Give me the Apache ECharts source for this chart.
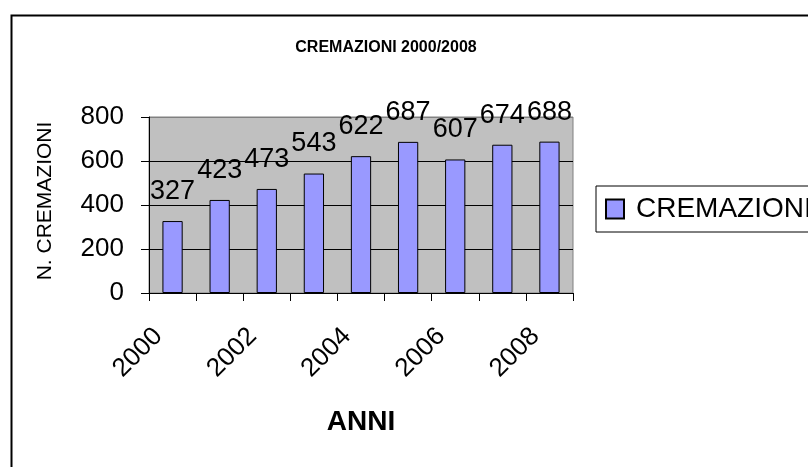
<!DOCTYPE html>
<html>
<head>
<meta charset="utf-8">
<script src="https://cdn.jsdelivr.net/npm/echarts@6/dist/echarts.min.js"></script>
<style>html,body{margin:0;padding:0;background:#fff}#c{width:808px;height:467px}</style>
</head>
<body>
<div id="c"></div>
<script>
var categories = ['2000','2001','2002','2003','2004','2005','2006','2007','2008'];
var cremazioni = [327, 423, 473, 543, 622, 687, 607, 674, 688];
var yTicks = [0, 200, 400, 600, 800];

var chart = echarts.init(document.getElementById('c'), null, {renderer: 'canvas'});
var F = '"Liberation Sans", Arial, sans-serif';
chart.setOption({
  animation: false,
  backgroundColor: '#ffffff',
  textStyle: {fontFamily: F},
  title: {
    text: 'CREMAZIONI 2000/2008',
    left: 381, top: 35, textAlign: 'center',
    textStyle: {fontFamily: F, fontSize: 16, fontWeight: 'bold', color: '#000'}
  },
  graphic: [{
    type: 'rect', left: 9, top: 13, z: -1,
    shape: {x: 0, y: 0, width: 900, height: 500},
    style: {fill: 'none', stroke: '#000', lineWidth: 2}
  }],
  legend: {
    left: 596, top: 186,
    orient: 'vertical',
    padding: [9, 10, 9, 9],
    borderColor: '#000', borderWidth: 1,
    itemWidth: 18, itemHeight: 19, itemGap: 0,
    icon: 'rect',
    textStyle: {fontFamily: F, fontSize: 28, color: '#000', padding: [0, 0, 0, 7]},
    data: ['CREMAZIONI']
  },
  grid: {
    left: 149, right: 235, top: 117, bottom: 174,
    show: true, backgroundColor: '#c0c0c0', borderColor: '#808080', borderWidth: 1,
    containLabel: false
  },
  xAxis: {
    type: 'category',
    data: categories,
    boundaryGap: true,
    name: 'ANNI', nameLocation: 'middle', nameGap: 115,
    nameTextStyle: {fontFamily: F, fontSize: 28, fontWeight: 'bold', color: '#000'},
    axisLine: {show: true, lineStyle: {color: '#000', width: 1}},
    axisTick: {show: true, interval: 0, length: 8, lineStyle: {color: '#000'}},
    axisLabel: {
      interval: 1, rotate: 45, margin: 25, color: '#000',
      fontFamily: F, fontSize: 26, padding: [0, 20, 0, 0]
    },
    splitLine: {show: false}
  },
  yAxis: {
    type: 'value',
    min: yTicks[0], max: yTicks[yTicks.length - 1], interval: 200,
    name: 'N. CREMAZIONI', nameLocation: 'middle', nameGap: 93,
    nameTextStyle: {fontFamily: F, fontSize: 21, color: '#000', padding: [0, 0, 0, 8]},
    axisLine: {show: true, lineStyle: {color: '#000', width: 1}},
    axisTick: {show: true, length: 8, lineStyle: {color: '#000'}},
    axisLabel: {margin: 25, color: '#000', fontFamily: F, fontSize: 26},
    splitLine: {show: true, lineStyle: {color: ['#000', '#000', '#000', '#000', '#808080'], width: 1}}
  },
  series: [{
    name: 'CREMAZIONI',
    type: 'bar',
    data: cremazioni,
    barWidth: '43%',
    itemStyle: {color: '#9999ff', borderColor: '#000', borderWidth: 1},
    label: {show: true, position: 'top', distance: 16, color: '#000', fontFamily: F, fontSize: 27}
  }]
});
</script>
</body>
</html>
